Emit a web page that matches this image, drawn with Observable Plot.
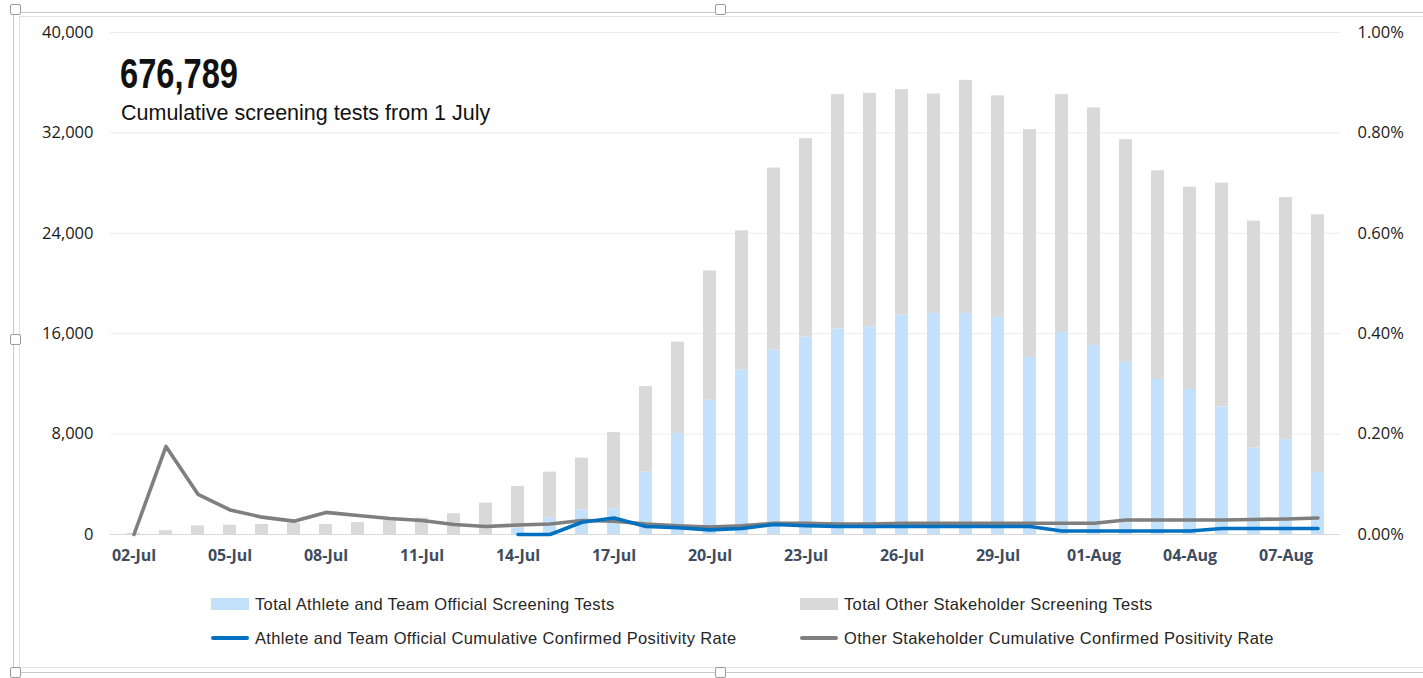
<!DOCTYPE html>
<html>
<head>
<meta charset="utf-8">
<script src="https://cdn.jsdelivr.net/npm/d3@7"></script>
<script src="https://cdn.jsdelivr.net/npm/@observablehq/plot@0.6"></script>
<style>
  html, body { margin: 0; padding: 0; background: #fff; }
  #wrap { position: relative; width: 1423px; height: 678px; overflow: hidden; background: #fff; }
  #chart { position: absolute; left: 0; top: 0; }
  .frame1 { position: absolute; left: 13px; top: 12px; width: 1430px; height: 661px; border: 1.5px solid #c9c9c9; box-sizing: border-box; }
  .frame2 { position: absolute; left: 19px; top: 16px; width: 1430px; height: 652px; border: 1px solid #e2e2e2; box-sizing: border-box; }
  .handle { position: absolute; width: 11px; height: 11px; background: #fff; border: 1px solid #9a9a9a; border-radius: 2px; box-sizing: border-box; }
  .title { position: absolute; left: 120px; top: 52px; font-family: "Liberation Sans Narrow", "Liberation Sans", sans-serif; font-weight: 700; font-size: 43px; line-height: 1; color: #111; transform-origin: left top; white-space: nowrap; }
  .subtitle { position: absolute; left: 121px; top: 103px; font-family: "Liberation Sans", Arial, sans-serif; font-size: 21.5px; line-height: 1; color: #111; white-space: nowrap; }
  .legend { position: absolute; font-family: "Liberation Sans", Arial, sans-serif; font-size: 16.5px; letter-spacing: 0.35px; color: #262626; white-space: nowrap; line-height: 1; }
  .legend .item { position: absolute; display: flex; align-items: center; }
  .sw-bar { width: 38px; height: 12px; margin-right: 6px; }
  .sw-line { width: 38px; height: 4px; margin-right: 6px; border-radius: 2px; }
</style>
</head>
<body>
<div id="wrap">
  <div class="frame1"></div>
  <div class="frame2"></div>
  <div id="chart"></div>
  <div class="title" id="title">676,789</div>
  <div class="subtitle">Cumulative screening tests from 1 July</div>
  <div class="legend" id="legend"></div>
  <div class="handle" style="left:10px;top:4px"></div>
  <div class="handle" style="left:715px;top:4px"></div>
  <div class="handle" style="left:10px;top:334px"></div>
  <div class="handle" style="left:10px;top:667px"></div>
  <div class="handle" style="left:715px;top:667px"></div>
</div>
<script>
// ---- data ----
const dates = ["02-Jul","03-Jul","04-Jul","05-Jul","06-Jul","07-Jul","08-Jul","09-Jul","10-Jul","11-Jul","12-Jul","13-Jul","14-Jul","15-Jul","16-Jul","17-Jul","18-Jul","19-Jul","20-Jul","21-Jul","22-Jul","23-Jul","24-Jul","25-Jul","26-Jul","27-Jul","28-Jul","29-Jul","30-Jul","31-Jul","01-Aug","02-Aug","03-Aug","04-Aug","05-Aug","06-Aug","07-Aug","08-Aug"];
const athleteTests = [0,0,0,0,0,0,0,0,0,0,0,0,500,1330,1970,2050,4970,8040,10700,13120,14690,15730,16390,16550,17490,17620,17620,17300,14110,16100,15060,13760,12350,11550,10170,6890,7560,4930];
const otherTests = [100,300,680,740,800,900,800,950,1150,1300,1650,2500,3330,3640,4120,6070,6820,7290,10300,11070,14510,15810,18660,18600,17960,17480,18570,17650,18150,18950,18930,17700,16630,16130,17830,18080,19290,20540];
// cumulative confirmed positivity rates, in percent
const athleteRate = [null,null,null,null,null,null,null,null,null,null,null,null,0,0,0.0245,0.033,0.016,0.0133,0.0093,0.012,0.02,0.0173,0.016,0.016,0.016,0.016,0.016,0.016,0.016,0.007,0.007,0.007,0.007,0.007,0.012,0.012,0.012,0.012];
const otherRate = [0,0.1755,0.08,0.049,0.0346,0.0266,0.044,0.038,0.032,0.028,0.020,0.016,0.019,0.021,0.028,0.0266,0.021,0.0173,0.0146,0.0173,0.0225,0.0225,0.021,0.021,0.0225,0.0225,0.0225,0.0225,0.0225,0.0225,0.0225,0.029,0.029,0.029,0.029,0.030,0.031,0.033];
const xTickLabels = ["02-Jul","05-Jul","08-Jul","11-Jul","14-Jul","17-Jul","20-Jul","23-Jul","26-Jul","29-Jul","01-Aug","04-Aug","07-Aug"];
const leftTicks = [0,8000,16000,24000,32000,40000];
const leftMax = 40000;
const rightMax = 1.0; // percent
const seriesNames = ["Total Athlete and Team Official Screening Tests","Total Other Stakeholder Screening Tests","Athlete and Team Official Cumulative Confirmed Positivity Rate","Other Stakeholder Cumulative Confirmed Positivity Rate"];
const seriesColors = ["#c3e1fa","#d9d9d9","#0070c0","#7f7f7f"];

// ---- tables ----
const bars = [];
dates.forEach((d, i) => {
  bars.push({date: d, series: seriesNames[0], value: athleteTests[i]});
  bars.push({date: d, series: seriesNames[1], value: otherTests[i]});
});
const athLine = dates.map((d, i) => ({date: d, rate: athleteRate[i]})).filter(r => r.rate != null);
const othLine = dates.map((d, i) => ({date: d, rate: otherRate[i]}));
const toLeft = r => r / rightMax * leftMax;

const chart = Plot.plot({
  width: 1423,
  height: 580,
  marginLeft: 110,
  marginRight: 83,
  marginTop: 32,
  marginBottom: 46,
  style: {fontFamily: "'Open Sans', sans-serif", background: "transparent", overflow: "visible"},
  x: {type: "band", domain: dates, paddingInner: 0.6, paddingOuter: 0.3, axis: null},
  y: {domain: [0, leftMax], axis: null},
  color: {domain: seriesNames.slice(0, 2), range: seriesColors.slice(0, 2)},
  marks: [
    Plot.gridY(leftTicks.slice(1), {stroke: "#ececec", strokeOpacity: 1, strokeWidth: 1}),
    Plot.barY(bars, {x: "date", y: "value", fill: "series", order: seriesNames.slice(0, 2)}),
    Plot.ruleY([0], {stroke: "#d9d9d9", strokeWidth: 1}),
    Plot.line(othLine, {x: "date", y: d => toLeft(d.rate), stroke: seriesColors[3], strokeWidth: 3.6, strokeLinejoin: "round", strokeLinecap: "round"}),
    Plot.line(athLine, {x: "date", y: d => toLeft(d.rate), stroke: seriesColors[2], strokeWidth: 3.6, strokeLinejoin: "round", strokeLinecap: "round"}),
    Plot.axisX({ticks: xTickLabels, tickSize: 0, tickPadding: 15, fontSize: 16, fontWeight: "bold", color: "#3e4c60", label: null}),
    Plot.axisY({anchor: "left", ticks: leftTicks, tickFormat: d3.format(","), tickSize: 0, tickPadding: 17, fontSize: 16.5, color: "#1a1a1a", label: null}),
    Plot.axisY({anchor: "right", ticks: leftTicks, tickFormat: d => (d / leftMax * rightMax).toFixed(2) + "%", tickSize: 0, tickPadding: 17, fontSize: 16.5, color: "#1a1a1a", label: null})
  ]
});
document.getElementById("chart").appendChild(chart);

// condensed headline figure: fit to the reference width
const title = document.getElementById("title");
const tw = title.getBoundingClientRect().width;
title.style.transform = `scaleX(${Math.min(1, 118 / tw)})`;

// ---- legend ----
const legend = document.getElementById("legend");
const legendPos = [[211, 604, "bar"], [800, 604, "bar"], [211, 638, "line"], [800, 638, "line"]];
seriesNames.forEach((name, i) => {
  const [x, y, kind] = legendPos[i];
  const item = document.createElement("div");
  item.className = "item";
  item.style.left = x + "px";
  item.style.top = (y - 8) + "px";
  item.style.height = "16px";
  const sw = document.createElement("div");
  sw.className = kind === "bar" ? "sw-bar" : "sw-line";
  sw.style.background = seriesColors[i];
  const tx = document.createElement("span");
  tx.textContent = name;
  item.appendChild(sw);
  item.appendChild(tx);
  legend.appendChild(item);
});
</script>
</body>
</html>
